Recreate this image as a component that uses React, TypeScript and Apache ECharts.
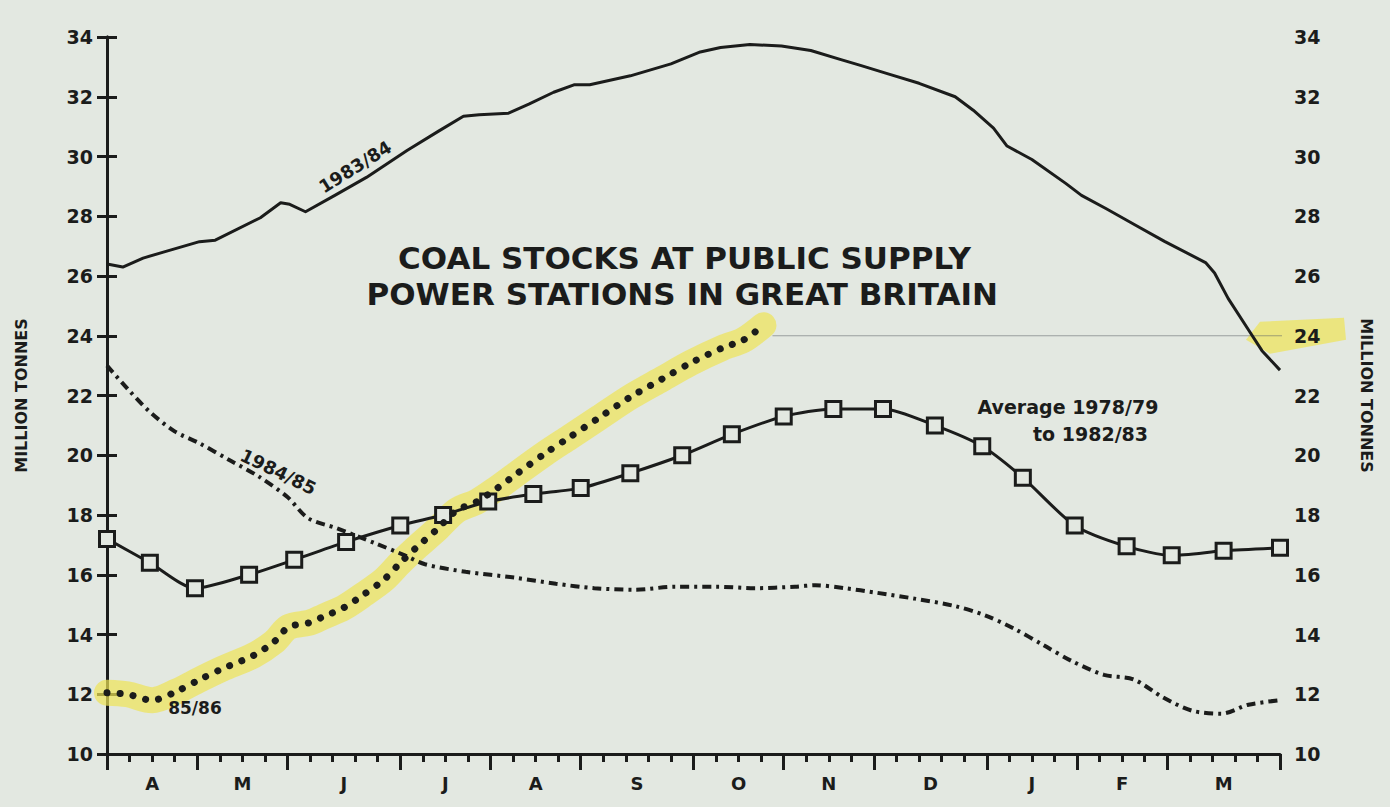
import React, { useEffect, useRef } from "react";
import * as echarts from "echarts";

// ---- data ----
const MONTH_LABELS = ["A", "M", "J", "J", "A", "S", "O", "N", "D", "J", "F", "M"];
const MONTH_WEEKS = [4, 4, 5, 4, 4, 5, 4, 4, 5, 4, 4, 5];
const Y_MIN = 10;
const Y_MAX = 34;
const Y_STEP = 2;

// [week, million tonnes]
const STOCKS_1983_84: [number, number][] = [
  [0, 26.4], [0.7, 26.3], [1.6, 26.6], [2.5, 26.8], [4.1, 27.15], [4.8, 27.2],
  [6.8, 27.95], [7.7, 28.45], [8.1, 28.4], [8.8, 28.15], [10.1, 28.7], [11.5, 29.3],
  [13.3, 30.2], [14.7, 30.85], [15.8, 31.35], [16.5, 31.4], [17.8, 31.45], [18.7, 31.75],
  [19.8, 32.15], [20.7, 32.4], [21.4, 32.4], [23.2, 32.7], [25.0, 33.1], [26.3, 33.5],
  [27.2, 33.65], [28.5, 33.75], [29.9, 33.7], [31.2, 33.55], [32.5, 33.25], [33.4, 33.05],
  [34.7, 32.75], [36.0, 32.45], [37.6, 32.0], [38.4, 31.55], [39.3, 30.95], [39.9, 30.35],
  [41.0, 29.9], [42.5, 29.1], [43.2, 28.7], [44.3, 28.25], [45.6, 27.7], [46.9, 27.15],
  [48.7, 26.45], [49.1, 26.1], [49.7, 25.25], [50.6, 24.2], [51.2, 23.5], [52, 22.85],
];

const STOCKS_1984_85: [number, number][] = [
  [0, 23.0], [1.0, 22.15], [1.9, 21.45], [3.0, 20.8], [4.1, 20.4], [5.4, 19.85],
  [6.7, 19.3], [8.0, 18.6], [8.9, 17.9], [10.2, 17.55], [11.9, 17.05], [13.2, 16.65],
  [14.1, 16.35], [15.9, 16.1], [18.1, 15.9], [19.9, 15.7], [21.6, 15.55], [23.4, 15.5],
  [25.2, 15.6], [27.0, 15.6], [28.7, 15.55], [30.5, 15.6], [31.4, 15.65], [32.7, 15.55],
  [34.1, 15.4], [35.8, 15.2], [37.6, 14.95], [38.9, 14.65], [40.2, 14.2], [41.5, 13.65],
  [42.8, 13.1], [44.2, 12.65], [45.5, 12.5], [46.8, 11.9], [48.1, 11.45], [49.4, 11.35],
  [50.6, 11.65], [52, 11.8],
];

const AVERAGE_78_83: [number, number][] = [
  [0, 17.2], [1.9, 16.4], [3.9, 15.55], [6.3, 16.0], [8.3, 16.5], [10.6, 17.1],
  [13.0, 17.65], [14.9, 18.0], [16.9, 18.45], [18.9, 18.7], [21.0, 18.9], [23.2, 19.4],
  [25.5, 20.0], [27.7, 20.7], [30.0, 21.3], [32.2, 21.55], [34.4, 21.55], [36.7, 21.0],
  [38.8, 20.3], [40.6, 19.25], [42.9, 17.65], [45.2, 16.95], [47.2, 16.65], [49.5, 16.8],
  [52, 16.9],
];

const STOCKS_1985_86: [number, number][] = [
  [0, 12.05], [0.9, 12.0], [2.0, 11.8], [3.1, 12.1], [4.0, 12.45], [5.1, 12.85],
  [6.5, 13.3], [7.4, 13.75], [8.05, 14.25], [9.0, 14.4], [9.6, 14.6], [10.5, 14.9],
  [11.4, 15.35], [12.3, 15.85], [13.0, 16.4], [13.7, 16.9], [14.6, 17.5], [15.5, 18.15],
  [16.4, 18.45], [17.3, 18.9], [18.2, 19.4], [19.4, 20.05], [20.5, 20.6], [21.8, 21.25],
  [23.2, 21.95], [24.6, 22.55], [25.9, 23.1], [27.3, 23.6], [28.2, 23.85], [29.1, 24.35],
];

const PENCIL_LINE: [number, number][] = [[29.5, 24.0], [52.4, 24.0]];

const TITLE_LINES = ["COAL STOCKS AT PUBLIC SUPPLY", "POWER STATIONS IN GREAT BRITAIN"];
const AXIS_NAME = "MILLION TONNES";

// annotation anchors in [week, value]
const ANNOTATIONS = [
  { text: "1983/84", at: [11.0, 29.66], rot: 32, size: 18 },
  { text: "1984/85", at: [7.6, 19.45], rot: -26, size: 18 },
  { text: "85/86", at: [3.9, 11.55], rot: 0, size: 17 },
  { text: "Average 1978/79", at: [42.6, 21.63], rot: 0, size: 19 },
  { text: "to 1982/83", at: [43.6, 20.7], rot: 0, size: 19 },
  { text: TITLE_LINES[0], at: [25.6, 26.6], rot: 0, size: 31 },
  { text: TITLE_LINES[1], at: [25.5, 25.4], rot: 0, size: 31 },
];

// ---- derived ----
const MONTH_BOUNDS: number[] = [0];
MONTH_WEEKS.forEach((w, i) => MONTH_BOUNDS.push(MONTH_BOUNDS[i] + w));
const MONTH_CENTERS = MONTH_WEEKS.map((w, i) => MONTH_BOUNDS[i] + w / 2);
const TOTAL_WEEKS = MONTH_BOUNDS[MONTH_BOUNDS.length - 1];
const WEEK_TICKS = Array.from({ length: TOTAL_WEEKS + 1 }, (_, i) => i);

const INK = "#1b1c1b";
const BG = "#e3e8e1";
const FONT = "DejaVu Sans";

export default function App() {
  const ref = useRef<HTMLDivElement>(null);
  useEffect(() => {
    const el = ref.current!;
    const chart = echarts.init(el, null, { renderer: "svg" });
    const yAxisBase = (pos: "left" | "right") => ({
      type: "value",
      position: pos,
      min: Y_MIN,
      max: Y_MAX,
      interval: Y_STEP,
      axisLine: { show: true, lineStyle: { color: INK, width: 3 } },
      axisTick: { show: true, length: 10, lineStyle: { color: INK, width: 3 } },
      axisLabel: {
        color: INK,
        fontFamily: FONT,
        fontWeight: "bold",
        fontSize: 19,
        margin: 14,
      },
      splitLine: { show: false },
      name: AXIS_NAME,
      nameLocation: "middle",
      nameGap: 78,
      nameRotate: pos === "left" ? 90 : -90,
      nameTextStyle: { color: INK, fontFamily: FONT, fontWeight: "bold", fontSize: 16 },
    });
    const xBase = {
      type: "value",
      position: "bottom",
      offset: 0,
      min: 0,
      max: TOTAL_WEEKS,
      splitLine: { show: false },
    };
    const option: any = {
      animation: false,
      backgroundColor: BG,
      grid: { left: 107, top: 37, width: 1173, height: 717 },
      xAxis: [
        {
          ...xBase,
          axisLine: { show: true, lineStyle: { color: INK, width: 3 } },
          axisTick: {
            show: true,
            length: 8,
            customValues: WEEK_TICKS,
            lineStyle: { color: INK, width: 3 },
          },
          axisLabel: { show: false },
        },
        {
          ...xBase,
          axisLine: { show: false },
          axisTick: {
            show: true,
            length: 16,
            customValues: MONTH_BOUNDS,
            lineStyle: { color: INK, width: 3 },
          },
          axisLabel: { show: false },
        },
        {
          ...xBase,
          axisLine: { show: false },
          axisTick: { show: false },
          axisLabel: {
            show: true,
            customValues: MONTH_CENTERS,
            margin: 20,
            color: INK,
            fontFamily: FONT,
            fontWeight: "bold",
            fontSize: 18,
            formatter: (v: number) => {
              const i = MONTH_CENTERS.findIndex((c) => Math.abs(c - v) < 1e-6);
              return i >= 0 ? MONTH_LABELS[i] : "";
            },
          },
        },
      ],
      yAxis: [yAxisBase("left"), yAxisBase("right")],
      series: [
        {
          name: "pencil",
          type: "line",
          data: PENCIL_LINE,
          symbol: "none",
          silent: true,
          z: 1,
          lineStyle: { color: "rgba(95,100,105,0.55)", width: 1.2 },
        },
        {
          name: "highlight",
          type: "line",
          data: STOCKS_1985_86,
          symbol: "none",
          silent: true,
          z: 1,
          smooth: 0.3,
          lineStyle: { color: "rgba(238,228,86,0.7)", width: 26, cap: "round", join: "round" },
        },
        {
          name: "1983/84",
          type: "line",
          data: STOCKS_1983_84,
          symbol: "none",
          z: 3,
          lineStyle: { color: INK, width: 3, join: "round" },
        },
        {
          name: "1984/85",
          type: "line",
          data: STOCKS_1984_85,
          symbol: "none",
          smooth: 0.3,
          z: 3,
          lineStyle: { color: INK, width: 4, type: [9, 5, 3, 5] },
        },
        {
          name: "Average 1978/79 to 1982/83",
          type: "line",
          data: AVERAGE_78_83,
          symbol: "rect",
          symbolSize: 15,
          smooth: 0.25,
          z: 4,
          lineStyle: { color: INK, width: 3 },
          itemStyle: { color: BG, borderColor: INK, borderWidth: 3 },
        },
        {
          name: "85/86",
          type: "line",
          data: STOCKS_1985_86,
          symbol: "none",
          smooth: 0.3,
          z: 5,
          lineStyle: { color: INK, width: 7, type: [0.1, 13], cap: "round" },
        },
      ],
    };
    chart.setOption(option);

    const toPx = (p: number[]) => chart.convertToPixel({ gridIndex: 0 }, p) as number[];
    const graphics: any[] = ANNOTATIONS.map((a) => {
      const [x, y] = toPx(a.at);
      return {
        type: "text",
        x,
        y,
        rotation: (a.rot * Math.PI) / 180,
        z: 10,
        style: {
          text: a.text,
          fill: INK,
          fontFamily: FONT,
          fontWeight: "bold",
          fontSize: a.size,
          align: "center",
          verticalAlign: "middle",
        },
      };
    });
    const [hx, hy] = toPx([TOTAL_WEEKS, 24]);
    graphics.unshift({
      type: "polygon",
      z: 0,
      shape: {
        points: [
          [hx - 34, hy + 4],
          [hx - 20, hy - 14],
          [hx + 64, hy - 18],
          [hx + 66, hy + 4],
          [hx - 10, hy + 18],
        ],
      },
      style: { fill: "rgba(238,228,86,0.7)" },
    });
    chart.setOption({ graphic: graphics });
    return () => chart.dispose();
  }, []);
  return (
    <div
      ref={ref}
      style={{ position: "absolute", left: 0, top: 0, width: 1390, height: 807, background: BG }}
    />
  );
}
